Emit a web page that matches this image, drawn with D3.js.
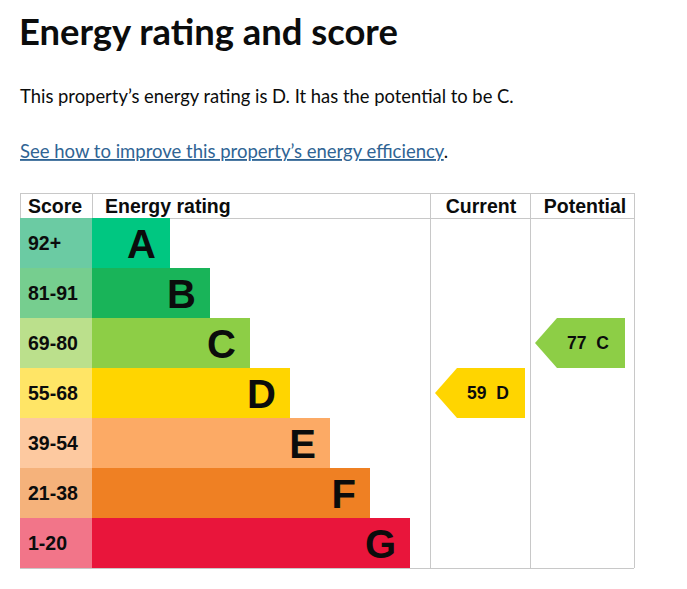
<!DOCTYPE html>
<html>
<head>
<meta charset="utf-8">
<script src="https://cdn.jsdelivr.net/npm/d3@7/dist/d3.min.js"></script>
<style>
  html, body { margin: 0; padding: 0; background: #fff; }
  svg { display: block; }
</style>
</head>
<body>
<svg id="chart" width="687" height="589"></svg>
<script>
// ---- data ----
const bands = ["A", "B", "C", "D", "E", "F", "G"];
const scoreRanges = ["92+", "81-91", "69-80", "55-68", "39-54", "21-38", "1-20"];
const bandColors = ["#00c781", "#19b459", "#8dce46", "#ffd500", "#fcaa65", "#ef8023", "#e9153b"];
const scoreColors = ["#6bcba3", "#76ce8f", "#bbe08c", "#ffe566", "#fdc9a0", "#f5b27b", "#f27589"];
const barLength = [1, 2, 3, 4, 5, 6, 7];
const headers = ["Score", "Energy rating", "Current", "Potential"];
const currentScore = 59, currentBand = "D";
const potentialScore = 77, potentialBand = "C";

const title = "Energy rating and score";
const summary = "This property\u2019s energy rating is D. It has the potential to be C.";
const linkText = "See how to improve this property\u2019s energy efficiency";

// ---- layout ----
const svg = d3.select("#chart");
const L = 20, R = 634, T = 193, headH = 25, B = 568;
const scoreW = 72, curX = 430, potX = 530;
const bodyFont = "Lato, 'Noto Sans', sans-serif";

svg.append("text").attr("x", 19).attr("y", 45)
  .attr("font-family", bodyFont).attr("font-weight", 700)
  .attr("font-size", 36.4).attr("fill", "#0b0c0c").text(title);
svg.append("text").attr("x", 20).attr("y", 103)
  .attr("font-family", bodyFont).attr("font-size", 18.4)
  .attr("fill", "#0b0c0c").text(summary);
const link = svg.append("text").attr("x", 20).attr("y", 158)
  .attr("font-family", bodyFont).attr("font-size", 18.5);
link.append("tspan").attr("fill", "#2f6494").attr("text-decoration", "underline").text(linkText);
link.append("tspan").attr("fill", "#0b0c0c").text(".");

const y = d3.scaleBand().domain(bands).range([T + headH, B]).padding(0);
// bar widths: A = 78, each next +40
const barW = d3.scaleLinear().domain([1, 7]).range([78, 318]);

const grid = "#c8c8c8";
svg.append("line").attr("x1", L).attr("x2", R).attr("y1", T + 0.5).attr("y2", T + 0.5).attr("stroke", grid);
svg.append("line").attr("x1", L).attr("x2", R).attr("y1", T + headH + 0.5).attr("y2", T + headH + 0.5).attr("stroke", grid);
svg.append("line").attr("x1", L).attr("x2", R).attr("y1", B + 0.5).attr("y2", B + 0.5).attr("stroke", grid);
[L, L + scoreW, curX, potX, R].forEach((vx, i) => {
  svg.append("line").attr("x1", vx + 0.5).attr("x2", vx + 0.5)
    .attr("y1", T).attr("y2", (i === 1 || i === 0) ? T + headH : B).attr("stroke", grid);
});

const hdrFont = "Liberation Sans, Arial, sans-serif";
const hx = [{x: 28, a: "start"}, {x: 105, a: "start"}, {x: 481, a: "middle"}, {x: 585, a: "middle"}];
headers.forEach((h, i) => {
  svg.append("text").attr("x", hx[i].x).attr("y", T + 19.5).attr("text-anchor", hx[i].a)
    .attr("font-family", hdrFont).attr("font-weight", 700).attr("font-size", 19.5)
    .attr("fill", "#0b0c0c").text(h);
});

const rows = svg.append("g").selectAll("g").data(bands).join("g");
rows.append("rect").attr("x", L).attr("y", d => y(d)).attr("width", scoreW).attr("height", y.bandwidth())
  .attr("fill", (d, i) => scoreColors[i]);
rows.append("rect").attr("x", L + scoreW).attr("y", d => y(d)).attr("width", (d, i) => barW(barLength[i]))
  .attr("height", y.bandwidth()).attr("fill", (d, i) => bandColors[i]);
rows.append("text").attr("x", 28).attr("y", d => y(d) + y.bandwidth() / 2 + 7)
  .attr("font-family", hdrFont).attr("font-weight", 700).attr("font-size", 19.5)
  .attr("fill", "#0b0c0c").text((d, i) => scoreRanges[i]);
rows.append("text").attr("x", (d, i) => L + scoreW + barW(barLength[i]) - 14)
  .attr("y", d => y(d) + y.bandwidth() / 2 + 14.5).attr("text-anchor", "end")
  .attr("font-family", hdrFont).attr("font-weight", 700).attr("font-size", 40)
  .attr("fill", "#0b0c0c").text(d => d);

function arrow(colX, score, band) {
  const i = bands.indexOf(band);
  const top = y(band), h = y.bandwidth();
  const tip = colX + 5, body = colX + 27, right = colX + 95;
  const g = svg.append("g");
  g.append("path")
    .attr("d", `M${tip},${top + h / 2} L${body},${top} L${right},${top} L${right},${top + h} L${body},${top + h} Z`)
    .attr("fill", bandColors[i]);
  g.append("text").attr("x", (body + right) / 2 - 3).attr("y", top + h / 2 + 6)
    .attr("text-anchor", "middle").attr("font-family", hdrFont).attr("font-weight", 700)
    .attr("font-size", 17.5).attr("fill", "#0b0c0c")
    .text(score + "\u00a0 " + band);
}
arrow(curX, currentScore, currentBand);
arrow(potX, potentialScore, potentialBand);
</script>
</body>
</html>
